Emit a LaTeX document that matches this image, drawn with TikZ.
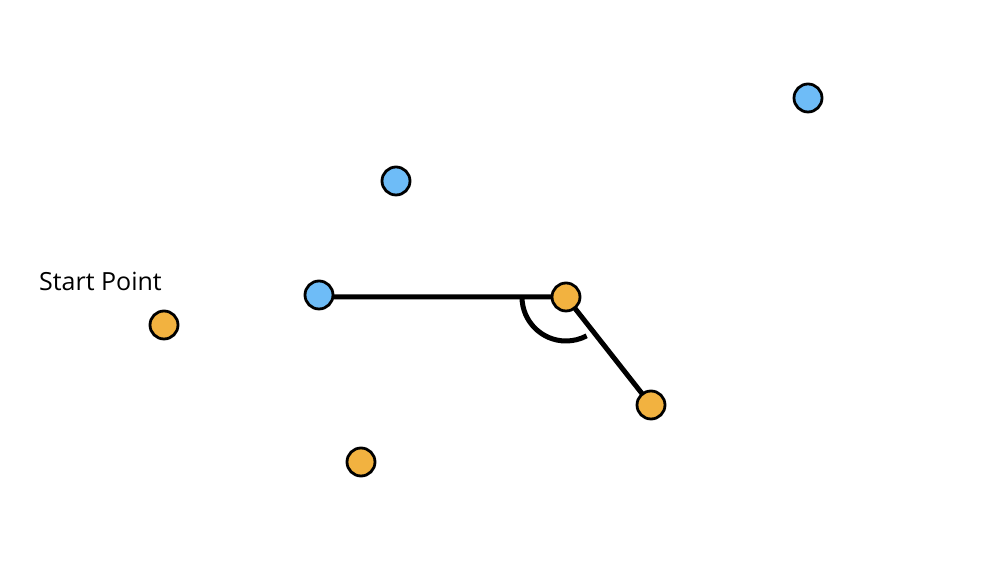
\documentclass[tikz,border=0pt]{standalone}
\usepackage{fontspec}
\setmainfont{Open Sans}
\definecolor{ptblue}{HTML}{6EBCF7}
\definecolor{ptorange}{HTML}{F2B240}
\tikzset{
  pt/.style={circle, draw=black, line width=2.8bp, minimum size=28bp, inner sep=0pt},
  bluept/.style={pt, fill=ptblue},
  orangept/.style={pt, fill=ptorange},
  seg/.style={line width=5bp, line cap=butt},
}
\begin{document}
\begin{tikzpicture}[x=1bp,y=1bp]
\useasboundingbox (0,0) rectangle (994,574);
\coordinate (b1c) at (808,476);
\coordinate (b2c) at (396,393);
\coordinate (b3c) at (319,279);
\coordinate (o1c) at (164,249);
\coordinate (o2c) at (566,277);
\coordinate (o3c) at (651,169);
\coordinate (o4c) at (361,112);
\coordinate (segstart) at (b3c |- o2c);
\draw[seg] (segstart) -- (o2c) -- (o3c);
\draw[seg] ([shift={(180:44)}]o2c) arc[start angle=180, end angle=298, radius=44];
\node[bluept] (b1) at (b1c) {};
\node[bluept] (b2) at (b2c) {};
\node[bluept] (b3) at (b3c) {};
\node[orangept] (o1) at (o1c) {};
\node[orangept] (o2) at (o2c) {};
\node[orangept] (o3) at (o3c) {};
\node[orangept] (o4) at (o4c) {};
\node[anchor=base west, inner sep=0pt, font=\fontsize{25bp}{30bp}\selectfont] (lbl) at (39,283) {Start Point};
\end{tikzpicture}
\end{document}
